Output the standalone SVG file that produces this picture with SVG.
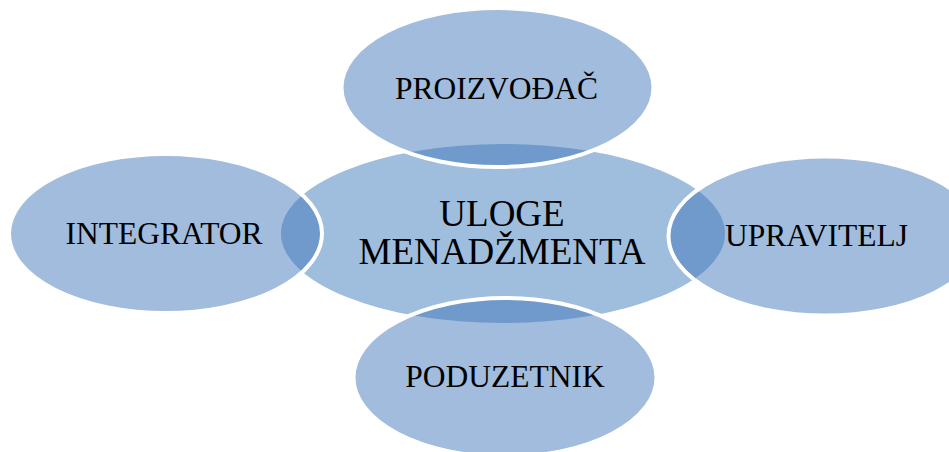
<svg xmlns="http://www.w3.org/2000/svg" width="949" height="452" viewBox="0 0 949 452">
<style>
.center{fill:#9fbddd;}
.outer{fill:#3f77b7;fill-opacity:0.49;stroke:#ffffff;stroke-width:4;}
.lbl{font-family:"Liberation Serif","Times New Roman",serif;fill:#000000;text-anchor:middle;}
.small{font-size:31.5px;}
.big{font-size:37px;}
</style>
<rect width="949" height="452" fill="#ffffff"/>
<g id="connectors"></g>
<g id="node-center">
<ellipse class="center" cx="503" cy="233.5" rx="222" ry="89.5"/>
<text class="lbl big" x="502" y="226">ULOGE</text>
<text class="lbl big" x="502" y="264">MENADŽMENTA</text>
</g>
<g id="node-top">
<ellipse class="outer" cx="497.5" cy="87.5" rx="156" ry="79.5"/>
<text class="lbl small" x="496.5" y="99">PROIZVOĐAČ</text>
</g>
<g id="node-left">
<ellipse class="outer" cx="165.5" cy="233.5" rx="156.5" ry="79.5"/>
<text class="lbl small" x="164" y="244">INTEGRATOR</text>
</g>
<g id="node-right">
<ellipse class="outer" cx="825" cy="236" rx="156.5" ry="79.5"/>
<text class="lbl small" x="816.5" y="246">UPRAVITELJ</text>
</g>
<g id="node-bottom">
<ellipse class="outer" cx="505" cy="377.5" rx="151.5" ry="79.5"/>
<text class="lbl small" x="505" y="387">PODUZETNIK</text>
</g>
</svg>
